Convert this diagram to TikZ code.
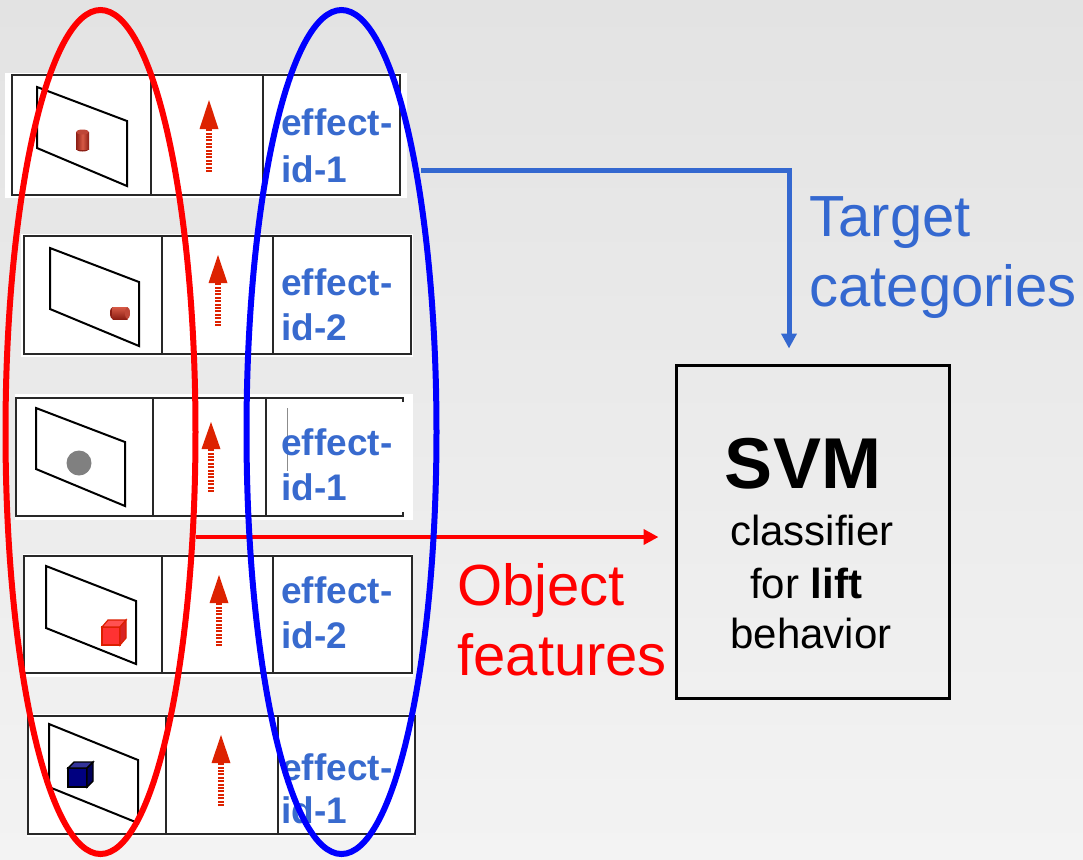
\documentclass[tikz,border=0pt]{standalone}
\usepackage{fontspec}
\setmainfont{Liberation Sans}
\usetikzlibrary{arrows.meta,shapes.geometric}

\definecolor{bgtop}{RGB}{227,227,227}
\definecolor{bgbot}{RGB}{243,243,243}
\definecolor{effblue}{RGB}{56,106,206}
\definecolor{tgtblue}{RGB}{52,104,208}
\definecolor{featred}{RGB}{255,0,0}
\definecolor{liftred}{RGB}{221,34,0}
\definecolor{cyldark}{RGB}{140,30,20}
\definecolor{cylmid}{RGB}{215,90,70}
\definecolor{cyltop}{RGB}{190,70,55}
\definecolor{cubefront}{RGB}{255,50,50}
\definecolor{cubeside}{RGB}{215,35,35}
\definecolor{cubeedge}{RGB}{220,30,0}
\definecolor{navyfront}{RGB}{0,0,128}
\definecolor{navyside}{RGB}{0,0,90}
\definecolor{tableline}{RGB}{40,40,40}

\tikzset{
  panelbg/.style={fill=white},
  cell/.style={draw=tableline, line width=0.8pt},
  plane/.style={draw=black, line width=1pt, line join=miter},
  liftshaft/.style={draw=liftred, line width=3pt, dash pattern=on 1pt off 0.7pt},
  lifthead/.style={fill=liftred},
  efftext/.style={anchor=base west, inner sep=0pt, text=effblue,
    font=\fontsize{18.5}{18.5}\selectfont\bfseries},
  biglabel/.style={anchor=base west, inner sep=0pt,
    font=\fontsize{29}{29}\selectfont},
  svmline/.style={anchor=base, inner sep=0pt, font=\fontsize{21}{21}\selectfont},
  groupell/.style={ellipse, draw, line width=3pt, inner sep=0pt,
    minimum width=95pt, minimum height=422pt},
  tgtarrow/.style={draw=tgtblue, line width=2.5pt,
    -{Triangle[length=7.5pt,width=7.5pt]}},
  featarrow/.style={draw=featred, line width=2.4pt,
    -{Triangle[length=7.5pt,width=7.5pt]}},
}

% one lift arrow: x, tip y, head base y, tail y
\newcommand\liftarrow[4]{%
  \draw[liftshaft] (#1,#4) -- (#1,#3);
  \fill[lifthead] (#1,#2) -- ({#1+9.5},#3) -- ({#1-9.5},#3) -- cycle;
}

\begin{document}
\begin{tikzpicture}[x=0.5pt,y=-0.5pt]
\useasboundingbox (0,0) rectangle (1083,859);
\shade[top color=bgtop, bottom color=bgbot] (0,0) rectangle (1083,859);

% ---- row 1 ----
\fill[panelbg] (5,73) rectangle (407,198);
\draw[cell] (12,75) rectangle (400,195);
\draw[cell] (151,75) -- (151,195) (263,75) -- (263,195);
\draw[plane] (37,87) -- (127,121) -- (127,186) -- (37,148) -- cycle;
\fill[cyldark] (82.5,149) ellipse [x radius=6.5, y radius=2.5];
\shade[left color=cyldark, right color=cyldark, middle color=cylmid] (76,132) rectangle (89,149);
\fill[cyltop] (82.5,132) ellipse [x radius=6.5, y radius=2.5];
\liftarrow{209}{100}{129}{172}
\node[efftext] (e1a) at (281,135) {effect-};
\node[efftext] (e1b) at (281,182) {id-1};

% ---- row 2 ----
\fill[panelbg] (21,234) rectangle (413,357);
\draw[cell] (24,236) rectangle (411,354);
\draw[cell] (162,236) -- (162,354) (273,236) -- (273,354);
\draw[plane] (50,248) -- (139,282) -- (139,346) -- (50,309) -- cycle;
\fill[cyldark] (112.5,313) ellipse [x radius=2.5, y radius=6];
\shade[top color=cylmid, bottom color=cyldark] (112.5,307) rectangle (127.5,319);
\fill[cyltop] (127.5,313) ellipse [x radius=2.5, y radius=6];
\liftarrow{218}{255}{283}{326}
\node[efftext] (e2a) at (281,295) {effect-};
\node[efftext] (e2b) at (281,340) {id-2};

% ---- row 3 ----
\fill[panelbg] (15,394) rectangle (413,520);
\draw[cell] (403,402) -- (403,398) -- (16,398) -- (16,516) -- (403,516) -- (403,512);
\draw[cell] (153,398) -- (153,516) (266,398) -- (266,516);
\draw[plane] (36,408) -- (125,442) -- (125,506) -- (36,469) -- cycle;
\fill[black!50] (79,463) circle [radius=12.5];
\liftarrow{211}{422}{449}{492}
\draw[black!45, line width=0.4pt] (287,408) -- (287,471);
\node[efftext] (e3a) at (281,455) {effect-};
\node[efftext] (e3b) at (281,500) {id-1};

% ---- row 4 ----
\fill[panelbg] (23,554) rectangle (413,677);
\draw[cell] (24,556) rectangle (412,673);
\draw[cell] (162,556) -- (162,673) (273,556) -- (273,673);
\draw[plane] (46,566) -- (136,601) -- (136,664) -- (46,628) -- cycle;
\filldraw[fill=cubefront, draw=cubeedge, line width=0.6pt]
  (102,627) rectangle (120,645);
\filldraw[fill=cubefront!85!white, draw=cubeedge, line width=0.6pt]
  (102,627) -- (108,620) -- (126,620) -- (120,627) -- cycle;
\filldraw[fill=cubeside, draw=cubeedge, line width=0.6pt]
  (120,627) -- (126,620) -- (126,638) -- (120,645) -- cycle;
\liftarrow{219}{575}{603}{646}
\node[efftext] (e4a) at (281,603) {effect-};
\node[efftext] (e4b) at (281,648) {id-2};

% ---- row 5 ----
\fill[panelbg] (27,714) rectangle (415,837);
\draw[cell] (28,716) rectangle (415,834);
\draw[cell] (166,716) -- (166,834) (278,716) -- (278,834);
\draw[plane] (49,724) -- (138,760) -- (138,823) -- (49,787) -- cycle;
\filldraw[fill=navyfront, draw=black, line width=0.7pt]
  (68,768) rectangle (87,787);
\filldraw[fill=navyfront!80!white, draw=black, line width=0.7pt]
  (68,768) -- (74,762) -- (93,762) -- (87,768) -- cycle;
\filldraw[fill=navyside, draw=black, line width=0.7pt]
  (87,768) -- (93,762) -- (93,781) -- (87,787) -- cycle;
\liftarrow{221}{735}{763}{806}
\node[efftext] (e5a) at (281,780) {effect-};
\node[efftext] (e5b) at (281,823) {id-1};

% ---- classifier box ----
\node[draw=black, line width=1.5pt, inner sep=0pt,
  minimum width=136.5pt, minimum height=166.5pt] (svm) at (812.5,531.5) {};
\node[anchor=base, inner sep=0pt, font=\fontsize{36}{36}\selectfont\bfseries]
  (svmtitle) at (803,488) {SVM};
\node[svmline] (svm1) at (812,545) {classifier};
\node[svmline] (svm2) at (806,598) {for \textbf{lift}};
\node[svmline] (svm3) at (811,648) {behavior};

% ---- connectors ----
\coordinate (tgtsrc) at (421,170);
\coordinate (featsrc) at (195.5,537);
\draw[tgtarrow, shorten >=7.5pt] (tgtsrc) -| ([xshift=-11.75pt]svm.north);
\draw[featarrow, shorten >=8pt] (featsrc) -- (featsrc -| svm.west);

% ---- groupings ----
\node[groupell, draw=featred] (objgroup) at (100.5,432) {};
\node[groupell, draw=blue] (tgtgroup) at (341.5,432) {};

% ---- labels ----
\node[biglabel, text=tgtblue] (tgt1) at (809,236) {Target};
\node[biglabel, text=tgtblue] (tgt2) at (809,306) {categories};
\node[biglabel, text=featred] (feat1) at (457,605) {Object};
\node[biglabel, text=featred] (feat2) at (457,675) {features};
\end{tikzpicture}
\end{document}
